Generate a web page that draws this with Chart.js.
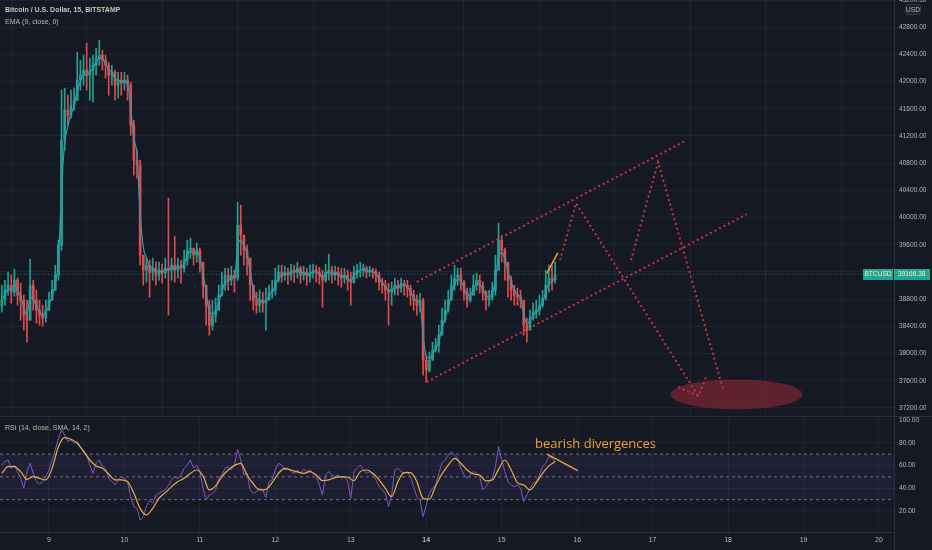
<!DOCTYPE html>
<html>
<head>
<meta charset="utf-8">
<script src="https://cdn.jsdelivr.net/npm/chart.js@4/dist/chart.umd.min.js"></script>
<style>
html,body{margin:0;padding:0;background:#151924;overflow:hidden}
#wrap{position:relative;width:932px;height:550px;background:#151924}
#c1{position:absolute;left:0;top:0}
#c2{position:absolute;left:0;top:416px}
</style>
</head>
<body>
<div id="wrap">
<canvas id="c1" width="932" height="416"></canvas>
<canvas id="c2" width="932" height="134"></canvas>
</div>
<script>
// ---------- data ----------
const startDay = 8.375;          // first candle: day 8, 09:00
const candleStepDays = 1 / 24;   // one candle per hour
const firstOpen = 38700;

const closePrices = [
38785,38932,39006,38903,39079,38859,38785,38565,38491,39006,
38785,38638,38565,38521,38638,38785,38932,39153,39594,41138,
41579,41506,41653,41726,42021,42094,42168,42094,42168,42241,
42344,42388,42315,42241,42094,42138,41947,42021,41976,42021,
41947,41359,40844,40771,39447,39226,39300,39197,39256,39153,
39226,39182,39256,39226,39300,39226,39300,39256,39374,39521,
39550,39447,39521,39344,39006,38712,38418,38565,38638,38859,
39006,39153,39079,39153,39109,39888,39741,39521,39403,39006,
38785,38712,38785,38741,38785,38903,38932,39079,39197,39153,
39197,39153,39226,39197,39256,39153,39197,39138,39182,39226,
39197,39153,39079,39197,39226,39153,39197,39153,39109,39153,
39079,39050,39197,39226,39226,39256,39197,39226,39197,39153,
39050,39006,38932,38903,38932,39006,38962,39035,39006,38962,
38859,38785,38712,38785,37903,37756,37903,38050,38124,38271,
38491,38638,38785,39006,39109,39153,39050,38903,38785,38859,
39006,39079,39006,38903,38785,38815,38932,39226,39668,39521,
39344,39079,38932,38859,38829,38785,38418,38344,38521,38609,
38638,38712,38815,39006,39109,39079,39166
];
const highPrices = [
39006,39079,39197,39153,39241,39109,39035,38859,38785,39388,
39079,38932,38785,38712,38785,38903,39079,39300,39668,41874,
41903,41800,41874,41903,42432,42315,42388,42565,42344,42388,
42491,42609,42462,42388,42285,42241,42168,42138,42138,42138,
42094,41991,41432,40991,40844,39447,39403,39374,39403,39344,
39344,39315,39403,40285,39403,39726,39403,39374,39521,39668,
39697,39550,39624,39550,39344,39006,38785,38785,38815,39006,
39197,39256,39256,39285,39226,40226,40182,39741,39594,39374,
39006,38903,38932,38903,38962,39006,39079,39256,39300,39300,
39285,39256,39315,39300,39344,39285,39285,39256,39300,39315,
39300,39271,39226,39315,39462,39285,39285,39271,39256,39256,
39226,39197,39285,39315,39344,39315,39285,39285,39256,39241,
39197,39109,39079,39035,39050,39109,39079,39109,39079,39079,
39006,38932,38859,38888,38815,37976,38021,38168,38226,38418,
38668,38785,38932,39153,39300,39256,39256,39079,38962,38962,
39153,39182,39153,39050,38932,38932,39050,39447,39918,39741,
39550,39344,39138,39006,38962,38932,38785,38521,38638,38741,
38785,38859,38932,39226,39300,39300,39344
];
const lowPrices = [
38609,38712,38859,38741,38844,38712,38491,38344,38168,38491,
38638,38447,38418,38403,38462,38638,38785,38932,39079,39521,
40991,41359,41462,41579,41726,41874,41947,41874,41726,41697,
42094,42241,42168,42050,41800,41947,41726,41756,41800,41874,
41726,41212,40624,40579,39300,39006,39050,38829,39079,39006,
39079,39035,39109,38565,39079,39050,39109,39035,39197,39300,
39403,39300,39344,39197,38815,38418,38271,38344,38462,38638,
38844,38932,38932,39006,38903,39079,39447,39300,39153,38785,
38638,38594,38609,38609,38344,38785,38815,38859,39050,39050,
39079,39021,39079,39050,39109,39035,39079,39006,39050,39109,
39050,39021,38682,39050,39079,39035,39079,39006,38976,39035,
38932,38712,39035,39109,39124,39138,39109,39138,39109,39050,
38932,38888,38785,38418,38712,38859,38859,38903,38859,38829,
38712,38638,38565,38609,37682,37579,37726,37903,38021,38021,
38344,38462,38609,38859,38932,39006,38932,38785,38682,38756,
38859,38932,38888,38785,38638,38697,38785,38859,39226,39344,
39079,38829,38785,38712,38712,38668,38271,38168,38344,38491,
38521,38565,38682,38785,38903,38932,39035
];
const rsiValues = [
60.4,63.4,64.8,57.5,60.4,54.6,48.7,39.9,54.6,61.9,
53.1,45.8,43.7,45.8,50.2,56.0,64.8,73.6,83.9,91.2,
86.8,81.0,82.4,79.5,81.0,76.5,73.6,69.2,60.4,53.1,
61.9,64.8,59.0,57.5,48.7,45.8,42.9,47.3,50.2,48.7,
45.8,32.6,23.8,22.3,12.1,15.0,23.8,29.7,26.7,34.1,
35.5,37.0,38.5,42.9,47.3,50.2,48.7,51.6,57.5,60.4,
64.8,57.5,60.4,54.6,39.9,29.7,34.1,35.5,38.5,48.7,
51.6,57.5,59.0,56.0,60.4,74.2,64.8,51.6,53.1,38.5,
35.5,37.0,39.9,38.5,32.0,45.8,47.3,56.0,61.9,60.4,
56.0,57.5,54.6,53.1,56.0,53.1,56.6,54.6,56.0,53.1,
50.2,42.9,34.1,51.6,54.6,51.6,50.2,51.6,48.7,50.2,
45.8,31.1,54.6,57.5,60.4,56.0,53.1,54.6,51.6,47.3,
41.4,38.5,35.5,23.8,34.1,56.0,57.5,54.6,53.1,54.6,
50.2,41.4,32.6,29.7,15.0,25.3,35.5,39.9,42.9,53.1,
61.9,64.8,69.2,72.2,69.2,66.3,57.5,51.6,48.7,51.6,
54.6,53.1,50.2,38.5,41.4,45.8,48.7,59.0,76.5,64.8,
54.6,45.8,42.9,41.4,42.9,39.9,28.2,34.1,39.9,44.3,
45.8,51.6,59.0,61.9,67.8,66.3,63.4
];
const rsiMaStep = 2;             // MA read at every 2nd candle
const rsiMaValues = [
53.1,59.0,59.0,54.6,47.8,50.2,48.7,47.3,57.5,76.5,
84.5,83.0,79.5,72.2,64.8,59.6,57.5,52.5,47.3,47.3,
45.8,35.5,22.3,16.5,22.3,31.1,36.1,41.4,45.8,48.7,
53.1,56.0,50.8,38.5,42.0,50.2,56.0,60.1,61.9,51.6,
43.7,38.5,39.0,44.9,53.1,57.5,56.0,54.3,53.1,54.6,
51.6,46.7,47.3,49.3,50.2,49.6,46.7,54.6,56.0,53.1,
47.3,39.9,32.6,45.8,53.7,53.7,45.8,31.1,30.3,42.0,
52.5,60.4,66.3,61.9,56.0,52.5,51.6,46.4,47.3,56.6,
64.8,56.0,44.9,42.9,38.5,44.9,53.1,59.6,63.4
];
const dayTicks = [9,10,11,12,13,14,15,16,17,18,19,20];
const boldDay = 14;
const priceTicks = [37200,37600,38000,38400,38800,39200,39600,40000,40400,40800,41200,41600,42000,42400,42800,43200];
const rsiTicks = [20,40,60,80,100];
const lastPrice = 39166.38;
const rsiBands = [70, 50, 30];

// drawings (day, value)
const channelUpper = [[13.874,39054],[17.452,41138]];
const channelLower = [[14.006,37584],[18.248,40050]];
const projectionA  = [[15.773,39373],[15.985,40212],[17.606,37374]];
const arrowHeadA   = [[17.341,37510],[17.606,37374],[17.717,37682]];
const projectionB  = [[16.714,39373],[17.072,40815],[17.933,37476]];
const divergencePrice = [[15.597,39178],[15.743,39481]];
const divergenceRsi   = [[15.605,69.8],[16.008,55.4]];
const targetZone = {day:18.112, price:37399, halfDays:0.875, halfPrice:220};
const noteText = 'bearish divergences';
const noteAt = [15.442, 75.4];

// view window
const viewStartDay = 8.351, viewEndDay = 20.199;
const priceMin = 37082, priceMax = 43200;
const rsiMin = 1.5, rsiMax = 103.5;

// ---------- styling ----------
const BG = '#151924';
const GRID = '#1f2331';
const AXIS = '#2a2e39';
const TICK = '#b6b7b9';
const LEG = '#c9c5b2';
const FONT = "'Liberation Sans', Arial, sans-serif";
const UP = '#23a091', DOWN = '#e24b4d';
const DOT = '#c9323f';
const ORANGE = '#f0a030';

// ---------- derived ----------
const days = closePrices.map((_, i) => startDay + i * candleStepDays);
const opens = closePrices.map((c, i) => i === 0 ? firstOpen : closePrices[i - 1]);
const candleColors = closePrices.map((c, i) => c >= opens[i] ? UP : DOWN);
const wickData = days.map((d, i) => ({x: d, y: [Math.min(lowPrices[i], opens[i], closePrices[i]), Math.max(highPrices[i], opens[i], closePrices[i])]}));
const bodyData = days.map((d, i) => ({x: d, y: [opens[i], closePrices[i]]}));
const emaAlpha = 1 - Math.pow(1 - 2 / (9 + 1), 4); // EMA(9) of 15-min bars, on hourly bars
const emaValues = [];
closePrices.forEach((c, i) => emaValues.push(i === 0 ? c : emaAlpha * c + (1 - emaAlpha) * emaValues[i - 1]));
const pts = arr => arr.map(p => ({x: p[0], y: p[1]}));

function dotted(data, order) {
  return {type: 'line', data: pts(data), borderColor: DOT, borderWidth: 2, borderDash: [2, 3],
          borderCapStyle: 'butt', pointRadius: 0, fill: false, tension: 0, order};
}
function solid(data, color, width, order) {
  return {type: 'line', data, borderColor: color, borderWidth: width, pointRadius: 0, fill: false, tension: 0, order};
}

const noPad = s => { s.paddingTop = 0; s.paddingBottom = 0; s.paddingLeft = 0; s.paddingRight = 0; };
const fixTicks = list => s => { s.ticks = list.map(v => ({value: v})); };

// ---------- top pane ----------
const topOverlay = {
  id: 'topOverlay',
  beforeDraw(chart) {
    const c = chart.ctx; c.save(); c.fillStyle = BG; c.fillRect(0, 0, chart.width, chart.height); c.restore();
  },
  beforeDatasetsDraw(chart) {
    const c = chart.ctx, xs = chart.scales.x, ys = chart.scales.y, a = chart.chartArea;
    const cx = xs.getPixelForValue(targetZone.day), cy = ys.getPixelForValue(targetZone.price);
    const rx = xs.getPixelForValue(targetZone.day + targetZone.halfDays) - cx;
    const ry = cy - ys.getPixelForValue(targetZone.price + targetZone.halfPrice);
    c.save();
    c.beginPath(); c.rect(a.left, a.top, a.right - a.left, a.bottom - a.top); c.clip();
    c.beginPath(); c.ellipse(cx, cy, rx, ry, 0, 0, Math.PI * 2);
    c.fillStyle = 'rgba(170,42,55,0.5)'; c.fill();
    c.restore();
  },
  afterDraw(chart) {
    const c = chart.ctx, ys = chart.scales.y, a = chart.chartArea;
    c.save();
    // legend
    c.textBaseline = 'middle'; c.textAlign = 'left';
    c.fillStyle = LEG; c.font = 'bold 7px ' + FONT;
    c.fillText('Bitcoin / U.S. Dollar, 15, BITSTAMP', 5, 10.5);
    c.font = '7px ' + FONT; c.fillStyle = '#bdb9a8';
    c.fillText('EMA (9, close, 0)', 5, 22.5);
    // USD box
    c.fillStyle = '#1e222d'; c.strokeStyle = '#363a45'; c.lineWidth = 1;
    c.beginPath(); c.roundRect(905.5, 4.5, 15, 10, 2); c.fill(); c.stroke();
    c.fillStyle = TICK; c.textAlign = 'center'; c.font = '6.6px ' + FONT;
    c.fillText('USD', 913, 10);
    // last price labels
    const yc = Math.round(ys.getPixelForValue(lastPrice));
    c.fillStyle = '#22a594';
    c.fillRect(a.right, yc - 5, 36, 11);
    c.fillRect(a.right - 31, yc - 5, 30, 11);
    c.fillStyle = '#f3eec8'; c.textAlign = 'left';
    c.fillText(lastPrice.toFixed(2), a.right + 4, yc + 0.5);
    c.textAlign = 'center';
    c.fillText('BTCUSD', a.right - 16, yc + 0.5);
    c.restore();
  }
};

new Chart(document.getElementById('c1'), {
  type: 'line',
  data: {datasets: [
    dotted(channelUpper, 0),
    dotted(channelLower, 0),
    dotted(projectionA, 0),
    dotted(arrowHeadA, 0),
    dotted(projectionB, 0),
    solid(pts(divergencePrice), ORANGE, 1.5, 0),
    Object.assign(solid(days.map((d, i) => ({x: d, y: emaValues[i]})), '#2a9db5', 1.2, 2), {cubicInterpolationMode: 'monotone'}),
    {type: 'bar', data: bodyData, backgroundColor: candleColors, borderWidth: 0, barThickness: 2, grouped: false, order: 3},
    {type: 'bar', data: wickData, backgroundColor: candleColors, borderWidth: 0, barThickness: 1, grouped: false, order: 4},
    Object.assign(solid([{x: viewStartDay, y: lastPrice}, {x: viewEndDay, y: lastPrice}], 'rgba(38,166,154,0.55)', 1, 5), {borderDash: [1, 2]})
  ]},
  options: {
    responsive: false, animation: false, events: [],
    layout: {padding: 0, autoPadding: false},
    plugins: {legend: {display: false}, tooltip: {enabled: false}},
    scales: {
      x: {type: 'linear', min: viewStartDay, max: viewEndDay, offset: false,
          ticks: {display: false},
          afterBuildTicks: fixTicks(dayTicks),
          grid: {color: GRID, drawTicks: false}, border: {display: false},
          afterFit: s => { s.height = 0; noPad(s); }},
      y: {type: 'linear', position: 'right', min: priceMin, max: priceMax,
          ticks: {padding: 5, color: TICK, font: {family: FONT, size: 6.6}, callback: v => v.toFixed(2)},
          afterBuildTicks: fixTicks(priceTicks),
          grid: {color: GRID, drawTicks: false}, border: {color: AXIS},
          afterFit: s => { s.width = 38; noPad(s); }}
    }
  },
  plugins: [topOverlay]
});

// ---------- RSI pane ----------
const rsiOverlay = {
  id: 'rsiOverlay',
  beforeDraw(chart) {
    const c = chart.ctx; c.save(); c.fillStyle = BG; c.fillRect(0, 0, chart.width, chart.height); c.restore();
  },
  afterDraw(chart) {
    const c = chart.ctx, xs = chart.scales.x, ys = chart.scales.y, a = chart.chartArea;
    c.save();
    c.strokeStyle = AXIS; c.lineWidth = 1;
    c.beginPath(); c.moveTo(0, 0.5); c.lineTo(chart.width, 0.5); c.stroke();
    c.beginPath(); c.moveTo(a.right + 0.5, a.bottom); c.lineTo(a.right + 0.5, chart.height); c.stroke();
    c.textBaseline = 'middle'; c.textAlign = 'left';
    c.fillStyle = '#bdb9a8'; c.font = '7px ' + FONT;
    c.fillText('RSI (14, close, SMA, 14, 2)', 5, 12);
    c.fillStyle = ORANGE; c.font = "13px 'Open Sans', sans-serif"; c.textBaseline = 'alphabetic';
    c.fillText(noteText, xs.getPixelForValue(noteAt[0]), ys.getPixelForValue(noteAt[1]));
    c.restore();
  }
};

const bandSets = rsiBands.map((v, k) => {
  const ds = solid([{x: viewStartDay, y: v}, {x: viewEndDay, y: v}], '#6f7280', 1, 4);
  ds.borderDash = [3, 3];
  if (k === 0) { ds.fill = {value: rsiBands[rsiBands.length - 1]}; ds.backgroundColor = 'rgba(126,87,194,0.1)'; }
  return ds;
});

new Chart(document.getElementById('c2'), {
  type: 'line',
  data: {datasets: [
    solid(pts(divergenceRsi), ORANGE, 1.5, 0),
    Object.assign(solid(rsiMaValues.map((v, k) => ({x: startDay + k * rsiMaStep * candleStepDays, y: v})), '#e3b23c', 1.2, 1), {cubicInterpolationMode: 'monotone'}),
    solid(days.map((d, i) => ({x: d, y: rsiValues[i]})), '#7e57c2', 1, 2),
    ...bandSets
  ]},
  options: {
    responsive: false, animation: false, events: [],
    layout: {padding: 0, autoPadding: false},
    plugins: {legend: {display: false}, tooltip: {enabled: false}},
    scales: {
      x: {type: 'linear', min: viewStartDay, max: viewEndDay, offset: false,
          ticks: {padding: 4, color: TICK, autoSkip: false, maxRotation: 0,
                  font: ctx => ({family: FONT, size: 7, weight: (ctx.tick && ctx.tick.value === boldDay) ? 'bold' : 'normal'}),
                  callback: v => String(v)},
          afterBuildTicks: fixTicks(dayTicks),
          grid: {color: GRID, drawTicks: false}, border: {color: AXIS},
          afterFit: s => { s.height = 18; noPad(s); }},
      y: {type: 'linear', position: 'right', min: rsiMin, max: rsiMax,
          ticks: {padding: 5, color: TICK, font: {family: FONT, size: 6.6}, callback: v => v.toFixed(2)},
          afterBuildTicks: fixTicks(rsiTicks),
          grid: {color: GRID, drawTicks: false}, border: {color: AXIS},
          afterFit: s => { s.width = 38; noPad(s); }}
    }
  },
  plugins: [rsiOverlay]
});
</script>
</body>
</html>
